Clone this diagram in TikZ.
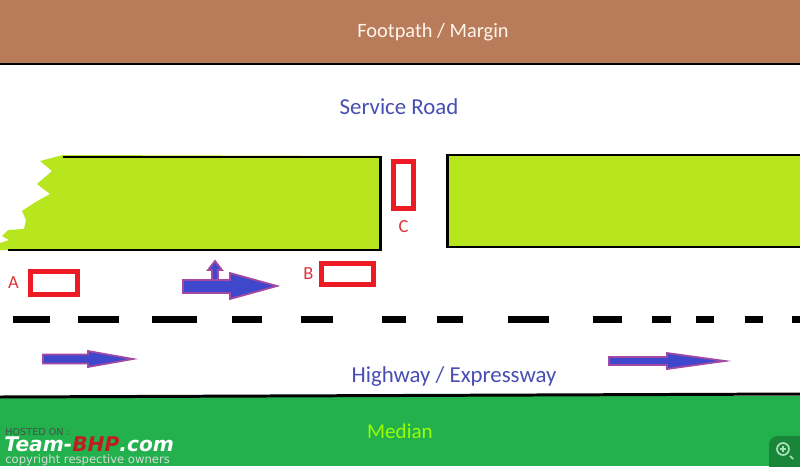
\documentclass[tikz,border=0pt]{standalone}
\usepackage{fontspec}
\setmainfont{Carlito}
\newfontfamily\wmfont{DejaVu Sans}
\usetikzlibrary{positioning}

\definecolor{footbrown}{RGB}{184,124,90}
\definecolor{lawn}{RGB}{184,230,30}
\definecolor{mediangreen}{RGB}{34,177,76}
\definecolor{carred}{RGB}{237,28,36}
\definecolor{arrblue}{RGB}{63,72,204}
\definecolor{arrpurple}{RGB}{163,73,164}
\definecolor{roadtext}{RGB}{72,78,180}
\definecolor{lbltext}{RGB}{222,52,58}
\definecolor{bhpred}{RGB}{190,30,30}

\begin{document}
\begin{tikzpicture}[x=0.02cm,y=-0.02cm,
  title/.style={font=\fontsize{12}{14}\selectfont,inner sep=0pt},
  car/.style={draw=carred,line width=2.8pt,fill=white},
  carlbl/.style={font=\fontsize{10.5}{12}\selectfont,text=lbltext,inner sep=0pt},
  edge/.style={line width=1.7pt,black},
  blkarr/.style={fill=arrblue,draw=arrpurple,line width=1pt},
  lane/.style={line width=4pt,black},
  wm/.style={anchor=west,inner sep=0pt}]
\clip (0,0) rectangle (800,466);
\fill[white] (0,0) rectangle (800,466);
\fill[footbrown] (0,0) rectangle (800,63);
\draw[edge] (0,64) -- (800,64);
\fill[mediangreen] (0,396) rectangle (800,466);
\draw[edge] (0,397) -- (800,394);
\fill[lawn] (380,156) -- (380,250) -- (0,250) -- (0,243) -- (9,240) -- (2,236) -- (8,230) -- (24,229)
  -- (26,220) -- (22,211) -- (34,203) -- (50,194) -- (37,184) -- (52,171) -- (40,161) -- (63,155) -- cycle;
\draw[edge] (63,157) -- (380,157) -- (380,250) -- (8,250);
\fill[lawn] (447,155) rectangle (800,247);
\draw[edge] (800,155) -- (447,155) -- (447,247) -- (800,247);
\foreach \xa/\xb in {13/50,78/119,152/197,232/262,301/333,382/406,437/463,508/549,593/622,652/671,696/714,745/763,792/800}
  \draw[lane] (\xa,319.5) -- (\xb,319.5);
\node[title,font=\fontsize{11.6}{14}\selectfont,text=white!92!orange] (foot) at (433,32) {Footpath / Margin};
\node[title,font=\fontsize{13}{15}\selectfont,text=roadtext] (service) at (399,107) {Service Road};
\node[title,font=\fontsize{13}{15}\selectfont,text=roadtext] (highway) at (454,377) {Highway / Expressway};
\node[title,text=green!40!yellow] (median) at (400,431) {Median};
\node[car,minimum width=0.94cm,minimum height=0.46cm] (carA) at (54,283) {};
\node[car,minimum width=1.04cm,minimum height=0.42cm] (carB) at (347.5,274) {};
\node[car,minimum width=0.40cm,minimum height=0.94cm] (carC) at (403.5,185) {};
\node[carlbl,left=5pt of carA] (lblA) {A};
\node[carlbl,left=3pt of carB] (lblB) {B};
\node[carlbl,below=5pt of carC] (lblC) {C};
\draw[blkarr] (212,281) -- (212,270) -- (208,270) -- (215,261) -- (222,270) -- (218,270) -- (218,281) -- cycle;
\draw[blkarr] (183,280) -- (230,280) -- (230,273) -- (277,286) -- (230,299) -- (230,293) -- (183,293) -- cycle;
\draw[blkarr] (43,354.5) -- (88,354.5) -- (88,351) -- (133,359) -- (88,367) -- (88,363.5) -- (43,363.5) -- cycle;
\draw[blkarr] (609,357) -- (667,357) -- (667,353) -- (725,361) -- (667,369) -- (667,365) -- (609,365) -- cycle;
\node[wm,font=\wmfont\fontsize{5.5}{6}\selectfont,text=black!70] (hosted) at (5,432) {HOSTED ON :};
\node[wm,font=\wmfont\bfseries\itshape\fontsize{11.5}{12}\selectfont] (brand) at (4,444.5)
  {\textcolor{white}{Team-}\textcolor{bhpred}{BHP}\textcolor{white}{.com}};
\node[wm,font=\wmfont\fontsize{6.6}{7}\selectfont,text=white!85!black] (copyr) at (5,460) {copyright respective owners};
\fill[mediangreen!75!black,rounded corners=5pt] (769,436) rectangle (812,480);
\draw[mediangreen!40!white,line width=1pt] (783,449) circle[radius=3.4pt] (790,456) -- (793,459);
\draw[mediangreen!40!white,line width=0.8pt] (780,449) -- (786,449) (783,446) -- (783,452);
\end{tikzpicture}
\end{document}
